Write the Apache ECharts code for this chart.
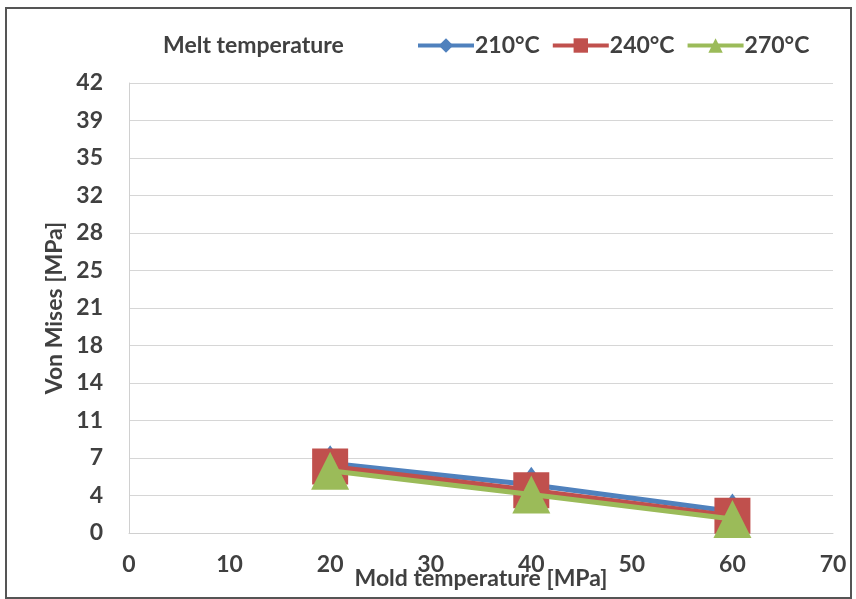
<!DOCTYPE html>
<html><head><meta charset="utf-8">
<script src="https://cdn.jsdelivr.net/npm/echarts@6/dist/echarts.min.js"></script>
<style>html,body{margin:0;padding:0;background:#fff}#c{width:856px;height:599px}</style>
</head><body><div id="c"></div>
<script>
const moldTemps = [20, 40, 60];
const seriesNames = ['210°C', '240°C', '270°C'];
const vm210 = [6.5, 4.5, 2.0];
const vm240 = [6.2, 4.0, 1.6];
const vm270 = [5.8, 3.6, 1.3];
const xTickLabels = ['0','10','20','30','40','50','60','70'];
const yTickLabels = ['0','4','7','11','14','18','21','25','28','32','35','39','42'];

const font = 'Lato, "Open Sans", sans-serif';
const txt = '#404040';
const colors = ['#4F81BD', '#C0504D', '#9BBB59'];
const symbols = ['diamond', 'rect', 'triangle'];
const sizes = [[26, 36], 36, [38, 38]];
const dataSets = [vm210, vm240, vm270];

const chart = echarts.init(document.getElementById('c'));
chart.setOption({
  animation: false,
  backgroundColor: '#fff',
  graphic: [{type: 'rect', shape: {x: 6, y: 8, width: 845, height: 590}, style: {fill: 'none', stroke: '#555', lineWidth: 2}}],
  title: {text: 'Melt temperature', left: 158, top: 29, textStyle: {fontFamily: font, fontWeight: 'bold', fontSize: 23, color: txt}},
  legend: {
    left: 411, top: 29, itemWidth: 56, itemHeight: 18, itemGap: 11,
    textStyle: {fontFamily: font, fontWeight: 'bold', fontSize: 23, color: txt, padding: [0,0,0,-4]},
    data: seriesNames.map((n, i) => ({name: n, itemStyle: {color: colors[i]}, lineStyle: {width: 4, color: colors[i]}}))
  },
  grid: {left: 129, right: 23, top: 83, bottom: 66, outerBoundsMode: 'none', containLabel: false},
  xAxis: {
    type: 'value', min: 0, max: 70, interval: 10,
    name: 'Mold temperature [MPa]', nameLocation: 'middle', nameGap: 34, nameMoveOverlap: false,
    nameTextStyle: {fontFamily: font, fontWeight: 'bold', fontSize: 23, color: txt},
    axisLine: {show: true, lineStyle: {color: '#d0d0d0'}}, axisTick: {show: false},
    splitLine: {show: false},
    axisLabel: {fontFamily: font, fontWeight: 'bold', fontSize: 23, color: txt, margin: 20,
      formatter: v => xTickLabels[Math.round(v / 10)]}
  },
  yAxis: {
    type: 'value', min: 0, max: 42, interval: 3.5,
    name: 'Von Mises [MPa]', nameLocation: 'middle', nameGap: 63, nameMoveOverlap: false,
    nameTextStyle: {fontFamily: font, fontWeight: 'bold', fontSize: 23, color: txt},
    axisLine: {show: true, lineStyle: {color: '#d0d0d0'}}, axisTick: {show: false},
    splitLine: {show: true, lineStyle: {color: '#d6d6d6', width: 1}},
    axisLabel: {fontFamily: font, fontWeight: 'bold', fontSize: 23, color: txt, margin: 26,
      formatter: v => yTickLabels[Math.round(v / 3.5)]}
  },
  series: seriesNames.map((n, i) => ({
    name: n, type: 'line',
    data: moldTemps.map((x, j) => [x, dataSets[i][j]]),
    symbol: symbols[i], symbolSize: sizes[i],
    lineStyle: {color: colors[i], width: 5},
    itemStyle: {color: colors[i]},
    z: 2 + i
  }))
});
</script></body></html>
